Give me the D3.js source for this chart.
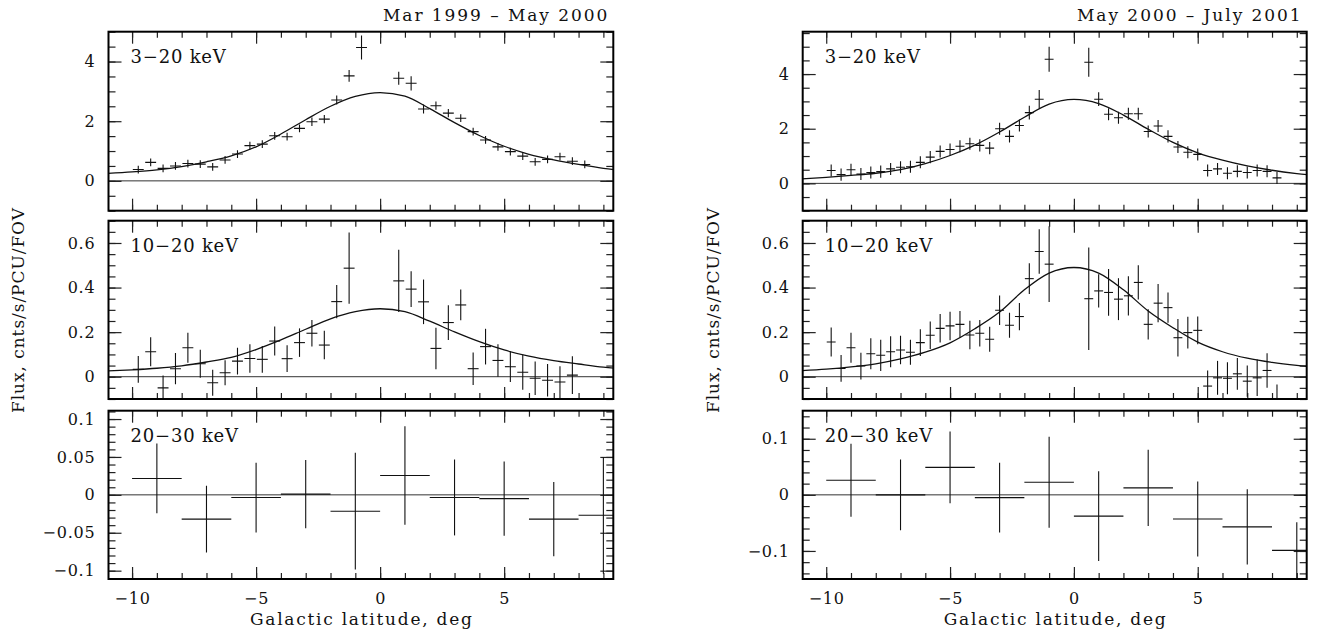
<!DOCTYPE html>
<html>
<head>
<meta charset="utf-8">
<script src="https://cdn.jsdelivr.net/npm/d3@7/dist/d3.min.js"></script>
<style>
  body { margin: 0; background: #fff; }
  text { font-family: "DejaVu Serif", serif; fill: #111; }
</style>
</head>
<body>
<div id="chart"></div>
<script>
/* CONSTANTS */
const width = 1321;
const height = 635;

/* DATA */
// latitudes where the model curve was sampled
const fitLat = [-11, -10, -9, -8, -7, -6, -5, -4, -3, -2, -1, 0, 1, 2, 3, 4, 5, 6, 7, 8, 9, 10];

// Mar 1999 - May 2000
const latA = [-9.75, -9.25, -8.75, -8.25, -7.75, -7.25, -6.75, -6.25, -5.75, -5.25, -4.75, -4.25, -3.75, -3.25, -2.75, -2.25, -1.75, -1.25, -0.75,
  0.75, 1.25, 1.75, 2.25, 2.75, 3.25, 3.75, 4.25, 4.75, 5.25, 5.75, 6.25, 6.75, 7.25, 7.75, 8.25];
const fluxA3_20 = [0.38, 0.62, 0.42, 0.50, 0.58, 0.56, 0.47, 0.70, 0.90, 1.18, 1.23, 1.51, 1.48, 1.76, 1.98, 2.07, 2.71, 3.52, 4.47,
  3.44, 3.27, 2.41, 2.52, 2.27, 2.10, 1.65, 1.37, 1.14, 0.98, 0.83, 0.64, 0.72, 0.81, 0.66, 0.55];
const errA3_20 = [0.13, 0.13, 0.13, 0.13, 0.13, 0.13, 0.13, 0.13, 0.13, 0.13, 0.13, 0.13, 0.13, 0.13, 0.14, 0.14, 0.15, 0.2, 0.4,
  0.22, 0.24, 0.15, 0.14, 0.14, 0.13, 0.13, 0.13, 0.13, 0.13, 0.13, 0.13, 0.13, 0.13, 0.13, 0.13];
const fitA3_20 = [0.25, 0.30, 0.37, 0.48, 0.64, 0.84, 1.14, 1.57, 2.05, 2.50, 2.83, 2.96, 2.84, 2.42, 1.95, 1.52, 1.16, 0.89, 0.70, 0.55, 0.42, 0.33];

const latA10 = [-9.75, -9.25, -8.75, -8.25, -7.75, -7.25, -6.75, -6.25, -5.75, -5.25, -4.75, -4.25, -3.75, -3.25, -2.75, -2.25, -1.75, -1.25,
  0.75, 1.25, 1.75, 2.25, 2.75, 3.25, 3.75, 4.25, 4.75, 5.25, 5.75, 6.25, 6.75, 7.25, 7.75];
const fluxA10_20 = [0.033, 0.112, -0.05, 0.036, 0.13, 0.058, -0.027, 0.018, 0.07, 0.082, 0.078, 0.16, 0.081, 0.153, 0.195, 0.142, 0.337, 0.487,
  0.43, 0.393, 0.336, 0.127, 0.243, 0.322, 0.036, 0.135, 0.073, 0.045, 0.02, -0.007, -0.016, -0.024, 0.007];
const errA10_20 = [0.06, 0.065, 0.055, 0.07, 0.067, 0.063, 0.058, 0.056, 0.06, 0.064, 0.06, 0.065, 0.06, 0.064, 0.06, 0.064, 0.075, 0.16,
  0.14, 0.08, 0.1, 0.093, 0.078, 0.069, 0.073, 0.08, 0.073, 0.069, 0.079, 0.075, 0.073, 0.071, 0.085];
const fitA10_20 = [0.026, 0.031, 0.038, 0.049, 0.066, 0.087, 0.122, 0.165, 0.213, 0.26, 0.292, 0.305, 0.292, 0.249, 0.201, 0.157, 0.12, 0.092, 0.072, 0.057, 0.043, 0.034];

const latWide = [-9, -7, -5, -3, -1, 1, 3, 5, 7, 9];
const fluxA20_30 = [0.0216, -0.032, -0.0035, 0.001, -0.0216, 0.0255, -0.0035, -0.005, -0.032, -0.027];
const errA20_30 = [0.046, 0.044, 0.046, 0.045, 0.077, 0.065, 0.05, 0.049, 0.049, 0.077];

// May 2000 - July 2001
const latB = [-9.8, -9.4, -9.0, -8.6, -8.2, -7.8, -7.4, -7.0, -6.6, -6.2, -5.8, -5.4, -5.0, -4.6, -4.2, -3.8, -3.4, -3.0, -2.6, -2.2, -1.8, -1.4, -1.0,
  0.6, 1.0, 1.4, 1.8, 2.2, 2.6, 3.0, 3.4, 3.8, 4.2, 4.6, 5.0, 5.4, 5.8, 6.2, 6.6, 7.0, 7.4, 7.8, 8.2];
const fluxB3_20 = [0.47, 0.32, 0.50, 0.34, 0.40, 0.43, 0.53, 0.59, 0.61, 0.77, 0.96, 1.17, 1.24, 1.36, 1.45, 1.39, 1.29, 2.0, 1.72, 2.12, 2.59, 3.08, 4.54,
  4.43, 3.08, 2.53, 2.40, 2.55, 2.55, 1.90, 2.10, 1.72, 1.33, 1.14, 1.06, 0.47, 0.53, 0.37, 0.44, 0.40, 0.47, 0.44, 0.20];
const errB3_20 = [0.22, 0.22, 0.22, 0.22, 0.22, 0.22, 0.22, 0.22, 0.22, 0.22, 0.22, 0.22, 0.22, 0.22, 0.22, 0.22, 0.22, 0.22, 0.22, 0.22, 0.25, 0.34, 0.46,
  0.53, 0.25, 0.22, 0.22, 0.22, 0.22, 0.22, 0.22, 0.22, 0.22, 0.22, 0.22, 0.22, 0.22, 0.22, 0.22, 0.22, 0.22, 0.22, 0.22];
const fitB3_20 = [0.16, 0.22, 0.29, 0.37, 0.5, 0.72, 1.02, 1.4, 1.88, 2.42, 2.9, 3.07, 2.92, 2.5, 1.98, 1.5, 1.12, 0.85, 0.64, 0.48, 0.36, 0.27];

const fluxB10_20 = [0.156, 0.037, 0.13, 0.048, 0.103, 0.096, 0.112, 0.12, 0.11, 0.153, 0.186, 0.217, 0.228, 0.235, 0.187, 0.195, 0.168, 0.298, 0.231, 0.27, 0.44, 0.562, 0.505,
  0.35, 0.385, 0.378, 0.348, 0.363, 0.423, 0.235, 0.33, 0.31, 0.175, 0.198, 0.208, -0.042, -0.005, -0.007, 0.013, -0.02, -0.005, 0.028, -0.12];
const errB10_20 = [0.065, 0.06, 0.067, 0.06, 0.07, 0.07, 0.07, 0.064, 0.056, 0.06, 0.062, 0.064, 0.064, 0.06, 0.064, 0.06, 0.056, 0.066, 0.056, 0.061, 0.069, 0.1, 0.17,
  0.23, 0.075, 0.105, 0.094, 0.088, 0.077, 0.068, 0.086, 0.068, 0.084, 0.071, 0.062, 0.07, 0.076, 0.072, 0.071, 0.07, 0.082, 0.077, 0.085];
const fitB10_20 = [0.027, 0.034, 0.044, 0.058, 0.08, 0.11, 0.152, 0.215, 0.29, 0.39, 0.465, 0.49, 0.465, 0.39, 0.295, 0.22, 0.155, 0.112, 0.083, 0.064, 0.051, 0.042];

const fluxB20_30 = [0.026, 0.0, 0.049, -0.005, 0.0225, -0.038, 0.0124, -0.043, -0.057, -0.099];
const errB20_30 = [0.065, 0.063, 0.064, 0.062, 0.081, 0.08, 0.068, 0.067, 0.067, 0.05];

// tick labels / axes
const latMajor = [-10, -5, 0, 5];
const latMinor = [-10, -9, -8, -7, -6, -5, -4, -3, -2, -1, 0, 1, 2, 3, 4, 5, 6, 7, 8, 9];

/* LAYOUT */
const rows = [[31.7, 210.7], [220.7, 399], [410.7, 579]];

const columns = [
  { title: "Mar 1999 \u2013 May 2000", x0: 108.5, x1: 613.3, yLabelX: 18, titleStart: 383,
    panels: [
      { label: "3\u221220 keV", lat: latA, flux: fluxA3_20, err: errA3_20, half: 0.22, fit: fitA3_20, domain: [-1, 5], major: [0, 2, 4], minor: 0.5 },
      { label: "10\u221220 keV", lat: latA10, flux: fluxA10_20, err: errA10_20, half: 0.22, fit: fitA10_20, domain: [-0.1, 0.7], major: [0, 0.2, 0.4, 0.6], minor: 0.05 },
      { label: "20\u221230 keV", lat: latWide, flux: fluxA20_30, err: errA20_30, half: 1, fit: null, domain: [-0.111, 0.111], major: [-0.1, -0.05, 0, 0.05, 0.1], minor: 0.01 }
    ] },
  { title: "May 2000 \u2013 July 2001", x0: 802.7, x1: 1306.7, yLabelX: 713, titleStart: 1077,
    panels: [
      { label: "3\u221220 keV", lat: latB, flux: fluxB3_20, err: errB3_20, half: 0.18, fit: fitB3_20, domain: [-1, 5.55], major: [0, 2, 4], minor: 0.5 },
      { label: "10\u221220 keV", lat: latB, flux: fluxB10_20, err: errB10_20, half: 0.18, fit: fitB10_20, domain: [-0.1, 0.7], major: [0, 0.2, 0.4, 0.6], minor: 0.05 },
      { label: "20\u221230 keV", lat: latWide, flux: fluxB20_30, err: errB20_30, half: 1, fit: null, domain: [-0.15, 0.15], major: [-0.1, 0, 0.1], minor: 0.02 }
    ] }
];

const svg = d3.select("#chart")
  .append("svg")
  .attr("width", width)
  .attr("height", height);

const fmt = d3.format("~g");

function minorTicks(domain, step) {
  const lo = Math.ceil(domain[0] / step - 1e-6), hi = Math.floor(domain[1] / step + 1e-6);
  return d3.range(lo, hi + 1).map(i => +(i * step).toFixed(4));
}

function styleAxis(g) {
  g.select(".domain").remove();
  g.selectAll(".tick line").attr("stroke", "#222").attr("stroke-width", 1.2);
  g.attr("font-family", null).attr("font-size", 16);
  g.selectAll(".tick text").attr("letter-spacing", 0.8);
}

columns.forEach((col, ci) => {
  const xScale = d3.scaleLinear()
    .domain([-10.95, 9.4])
    .range([col.x0, col.x1]);

  // title above the column
  svg.append("text")
    .attr("x", col.titleStart)
    .attr("y", 21)
    .attr("font-size", 17)
    .attr("textLength", col.x1 - 6 - col.titleStart)
    .attr("lengthAdjust", "spacing")
    .text(col.title);

  col.panels.forEach((p, pi) => {
    const [top, bottom] = rows[pi];
    const yScale = d3.scaleLinear().domain(p.domain).range([bottom, top]);
    const g = svg.append("g");

    const clipId = `clip-${ci}-${pi}`;
    svg.append("clipPath").attr("id", clipId)
      .append("rect")
      .attr("x", col.x0).attr("y", top)
      .attr("width", col.x1 - col.x0).attr("height", bottom - top);

    // zero line
    g.append("line")
      .attr("x1", col.x0).attr("x2", col.x1)
      .attr("y1", yScale(0)).attr("y2", yScale(0))
      .attr("stroke", "#333")
      .attr("stroke-width", 1);

    // AXES - all ticks point inward
    g.append("g").attr("transform", `translate(${col.x0},0)`)
      .call(d3.axisLeft(yScale).tickValues(minorTicks(p.domain, p.minor)).tickSize(-7).tickFormat(""))
      .call(styleAxis);
    g.append("g").attr("transform", `translate(${col.x0},0)`)
      .call(d3.axisLeft(yScale).tickValues(p.major).tickSize(-13).tickPadding(13).tickFormat(fmt))
      .call(styleAxis);
    g.append("g").attr("transform", `translate(${col.x1},0)`)
      .call(d3.axisRight(yScale).tickValues(minorTicks(p.domain, p.minor)).tickSize(-7).tickFormat(""))
      .call(styleAxis);
    g.append("g").attr("transform", `translate(${col.x1},0)`)
      .call(d3.axisRight(yScale).tickValues(p.major).tickSize(-13).tickFormat(""))
      .call(styleAxis);

    g.append("g").attr("transform", `translate(0,${top})`)
      .call(d3.axisTop(xScale).tickValues(latMinor).tickSize(-6).tickFormat(""))
      .call(styleAxis);
    g.append("g").attr("transform", `translate(0,${top})`)
      .call(d3.axisTop(xScale).tickValues(latMajor).tickSize(-12).tickFormat(""))
      .call(styleAxis);
    g.append("g").attr("transform", `translate(0,${bottom})`)
      .call(d3.axisBottom(xScale).tickValues(latMinor).tickSize(-6).tickFormat(""))
      .call(styleAxis);
    g.append("g").attr("transform", `translate(0,${bottom})`)
      .call(d3.axisBottom(xScale).tickValues(latMajor).tickSize(-12).tickPadding(14)
        .tickFormat(pi === 2 ? fmt : ""))
      .call(styleAxis);

    // model curve
    if (p.fit) {
      const line = d3.line()
        .x((d, i) => xScale(fitLat[i]))
        .y(d => yScale(d))
        .curve(d3.curveMonotoneX);
      g.append("path")
        .datum(p.fit)
        .attr("clip-path", `url(#${clipId})`)
        .attr("d", line)
        .attr("fill", "none")
        .attr("stroke", "#111")
        .attr("stroke-width", 1.3);
    }

    // data crosses
    const pts = p.flux.map((f, i) => ({ lat: p.lat[i], flux: f, err: p.err[i] }));
    const cross = g.append("g").attr("clip-path", `url(#${clipId})`)
      .attr("stroke", "#111").attr("stroke-width", 1.1);
    cross.selectAll(".h")
      .data(pts)
      .join("line")
      .attr("x1", d => xScale(d.lat - p.half))
      .attr("x2", d => xScale(d.lat + p.half))
      .attr("y1", d => yScale(d.flux))
      .attr("y2", d => yScale(d.flux));
    cross.selectAll(".v")
      .data(pts)
      .join("line")
      .attr("x1", d => xScale(d.lat))
      .attr("x2", d => xScale(d.lat))
      .attr("y1", d => yScale(d.flux - d.err))
      .attr("y2", d => yScale(d.flux + d.err));

    // frame
    g.append("rect")
      .attr("x", col.x0).attr("y", top)
      .attr("width", col.x1 - col.x0).attr("height", bottom - top)
      .attr("fill", "none")
      .attr("stroke", "#000")
      .attr("stroke-width", 2);

    // energy band label
    g.append("text")
      .attr("x", col.x0 + 22)
      .attr("y", top + 31.5)
      .attr("font-size", 18)
      .attr("letter-spacing", 0.8)
      .text(p.label);
  });

  // x axis title
  svg.append("text")
    .attr("x", (col.x0 + col.x1) / 2 - 111)
    .attr("y", 625)
    .attr("font-size", 17)
    .attr("textLength", 222)
    .attr("lengthAdjust", "spacing")
    .text("Galactic latitude, deg");

  // y axis title
  svg.append("text")
    .attr("transform", `translate(${col.yLabelX + 6},413) rotate(-90)`)
    .attr("font-size", 17)
    .attr("textLength", 205)
    .attr("lengthAdjust", "spacing")
    .text("Flux, cnts/s/PCU/FOV");
});
</script>
</body>
</html>
